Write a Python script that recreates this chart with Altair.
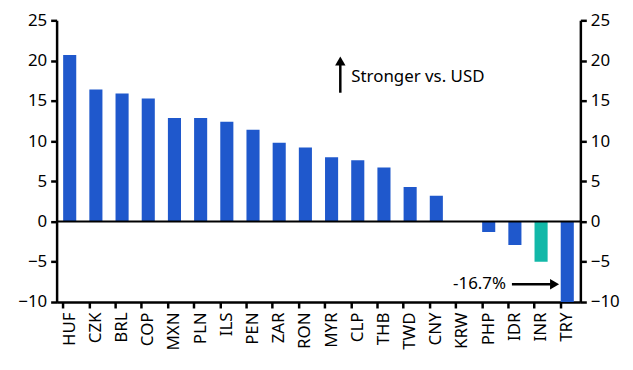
import altair as alt
import pandas as pd

currencies = ["HUF", "CZK", "BRL", "COP", "MXN", "PLN", "ILS", "PEN", "ZAR", "RON",
              "MYR", "CLP", "THB", "TWD", "CNY", "KRW", "PHP", "IDR", "INR", "TRY"]
values = [20.7, 16.4, 15.9, 15.3, 12.85, 12.85, 12.4, 11.4, 9.8, 9.2,
          8.0, 7.6, 6.7, 4.3, 3.2, 0.0, -1.3, -2.9, -5.0, -16.7]
highlight = ["no"] * 18 + ["yes", "no"]

y_ticks = [-10, -5, 0, 5, 10, 15, 20, 25]
y_domain = [-10, 25]

BLUE = "#1f58cc"
TEAL = "#12b8a8"
FONT = "Noto Sans"

df = pd.DataFrame({"cur": currencies, "val": values, "hl": highlight})

W, H = 528, 284

xenc = alt.X("cur:N", sort=currencies, title=None,
             scale=alt.Scale(paddingInner=0.5, paddingOuter=0.25),
             axis=alt.Axis(labelAngle=-90, bandPosition=0, labelPadding=4))

bars = alt.Chart(df).mark_bar(clip=True).encode(
    x=xenc,
    y=alt.Y("val:Q", title=None, scale=alt.Scale(domain=y_domain, nice=False),
            axis=alt.Axis(values=y_ticks, orient="left")),
    color=alt.Color("hl:N", scale=alt.Scale(domain=["no", "yes"], range=[BLUE, TEAL]), legend=None),
)

zero = alt.Chart(pd.DataFrame({"z": [0]})).mark_rule(color="black", strokeWidth=2).encode(
    y=alt.Y("z:Q", title=None, scale=alt.Scale(domain=y_domain, nice=False),
            axis=alt.Axis(values=y_ticks, orient="right")),
)

# annotations
ann_up_line = alt.Chart(pd.DataFrame({"a": [0]})).mark_rule(color="black", strokeWidth=2.5).encode(
    x=alt.value(286), y=alt.value(73), y2=alt.value(44))
ann_up_head = alt.Chart(pd.DataFrame({"a": [0]})).mark_point(
    shape="triangle-up", filled=True, color="black", opacity=1, size=110).encode(
    x=alt.value(286), y=alt.value(41))
ann_text = alt.Chart(pd.DataFrame({"t": ["Stronger vs. USD"]})).mark_text(
    align="left", baseline="middle", font=FONT, fontSize=17, color="black").encode(
    x=alt.value(297), y=alt.value(57), text="t:N")
ann_pct = alt.Chart(pd.DataFrame({"t": ["-16.7%"]})).mark_text(
    align="right", baseline="middle", font=FONT, fontSize=17, color="black").encode(
    x=alt.value(453), y=alt.value(266), text="t:N")
ann_r_line = alt.Chart(pd.DataFrame({"a": [0]})).mark_rule(color="black", strokeWidth=2.5).encode(
    x=alt.value(459), x2=alt.value(498), y=alt.value(266))
ann_r_head = alt.Chart(pd.DataFrame({"a": [0]})).mark_point(
    shape="triangle-right", filled=True, color="black", opacity=1, size=110).encode(
    x=alt.value(502), y=alt.value(266))

chart = alt.layer(bars, zero, ann_up_line, ann_up_head, ann_text, ann_pct, ann_r_line, ann_r_head).resolve_scale(
    y="independent"
).properties(width=W, height=H, padding={"left": 9, "top": 2, "right": 5, "bottom": 5}).configure_view(
    stroke=None
).configure_axis(
    grid=False, domainColor="black", domainWidth=2.5, tickColor="black", tickWidth=2.5,
    tickSize=6, labelFont=FONT, labelFontSize=17, labelColor="black", labelPadding=4,
)

chart.save("out.html", embed_options={"renderer": "svg", "actions": False})
